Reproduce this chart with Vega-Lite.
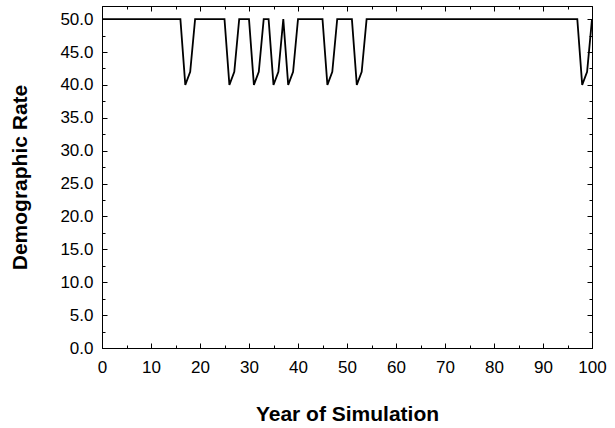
{
  "$schema": "https://vega.github.io/schema/vega-lite/v6.json",
  "width": 490,
  "height": 342,
  "autosize": {"type": "none"},
  "padding": {"left": 102, "top": 6, "right": 23, "bottom": 80},
  "background": "white",
  "config": {
    "view": {"stroke": null},
    "axis": {
      "domainColor": "black",
      "domainWidth": 1,
      "tickColor": "black",
      "tickWidth": 1,
      "labelColor": "black",
      "titleColor": "black",
      "labelFont": "Liberation Sans",
      "titleFont": "Liberation Sans",
      "labelFontSize": 17,
      "titleFontSize": 21,
      "titleFontWeight": "bold",
      "labelFlush": false,
      "labelOverlap": false,
      "grid": false
    }
  },
  "data": {
    "values": [
      {"year": 0, "rate": 50}, {"year": 1, "rate": 50}, {"year": 2, "rate": 50}, {"year": 3, "rate": 50},
      {"year": 4, "rate": 50}, {"year": 5, "rate": 50}, {"year": 6, "rate": 50}, {"year": 7, "rate": 50},
      {"year": 8, "rate": 50}, {"year": 9, "rate": 50}, {"year": 10, "rate": 50}, {"year": 11, "rate": 50},
      {"year": 12, "rate": 50}, {"year": 13, "rate": 50}, {"year": 14, "rate": 50}, {"year": 15, "rate": 50},
      {"year": 16, "rate": 50}, {"year": 17, "rate": 40}, {"year": 18, "rate": 42}, {"year": 19, "rate": 50},
      {"year": 20, "rate": 50}, {"year": 21, "rate": 50}, {"year": 22, "rate": 50}, {"year": 23, "rate": 50},
      {"year": 24, "rate": 50}, {"year": 25, "rate": 50}, {"year": 26, "rate": 40}, {"year": 27, "rate": 42},
      {"year": 28, "rate": 50}, {"year": 29, "rate": 50}, {"year": 30, "rate": 50}, {"year": 31, "rate": 40},
      {"year": 32, "rate": 42}, {"year": 33, "rate": 50}, {"year": 34, "rate": 50}, {"year": 35, "rate": 40},
      {"year": 36, "rate": 42}, {"year": 37, "rate": 50}, {"year": 38, "rate": 40}, {"year": 39, "rate": 42},
      {"year": 40, "rate": 50}, {"year": 41, "rate": 50}, {"year": 42, "rate": 50}, {"year": 43, "rate": 50},
      {"year": 44, "rate": 50}, {"year": 45, "rate": 50}, {"year": 46, "rate": 40}, {"year": 47, "rate": 42},
      {"year": 48, "rate": 50}, {"year": 49, "rate": 50}, {"year": 50, "rate": 50}, {"year": 51, "rate": 50},
      {"year": 52, "rate": 40}, {"year": 53, "rate": 42}, {"year": 54, "rate": 50}, {"year": 55, "rate": 50},
      {"year": 56, "rate": 50}, {"year": 57, "rate": 50}, {"year": 58, "rate": 50}, {"year": 59, "rate": 50},
      {"year": 60, "rate": 50}, {"year": 61, "rate": 50}, {"year": 62, "rate": 50}, {"year": 63, "rate": 50},
      {"year": 64, "rate": 50}, {"year": 65, "rate": 50}, {"year": 66, "rate": 50}, {"year": 67, "rate": 50},
      {"year": 68, "rate": 50}, {"year": 69, "rate": 50}, {"year": 70, "rate": 50}, {"year": 71, "rate": 50},
      {"year": 72, "rate": 50}, {"year": 73, "rate": 50}, {"year": 74, "rate": 50}, {"year": 75, "rate": 50},
      {"year": 76, "rate": 50}, {"year": 77, "rate": 50}, {"year": 78, "rate": 50}, {"year": 79, "rate": 50},
      {"year": 80, "rate": 50}, {"year": 81, "rate": 50}, {"year": 82, "rate": 50}, {"year": 83, "rate": 50},
      {"year": 84, "rate": 50}, {"year": 85, "rate": 50}, {"year": 86, "rate": 50}, {"year": 87, "rate": 50},
      {"year": 88, "rate": 50}, {"year": 89, "rate": 50}, {"year": 90, "rate": 50}, {"year": 91, "rate": 50},
      {"year": 92, "rate": 50}, {"year": 93, "rate": 50}, {"year": 94, "rate": 50}, {"year": 95, "rate": 50},
      {"year": 96, "rate": 50}, {"year": 97, "rate": 50}, {"year": 98, "rate": 40}, {"year": 99, "rate": 42},
      {"year": 100, "rate": 50}
    ]
  },
  "resolve": {"axis": {"x": "independent", "y": "independent"}},
  "layer": [
    {
      "mark": {"type": "line", "strokeOpacity": 0},
      "encoding": {
        "x": {"field": "year", "type": "quantitative", "scale": {"domain": [0, 100], "nice": false},
          "axis": {"orient": "bottom", "values": [0,5,10,15,20,25,30,35,40,45,50,55,60,65,70,75,80,85,90,95,100],
            "labels": false, "domain": false, "tickSize": -3, "title": null}},
        "y": {"field": "rate", "type": "quantitative", "scale": {"domain": [0, 52], "nice": false},
          "axis": {"orient": "left", "values": [0,2.5,5,7.5,10,12.5,15,17.5,20,22.5,25,27.5,30,32.5,35,37.5,40,42.5,45,47.5,50],
            "labels": false, "domain": false, "tickSize": -3, "title": null}}
      }
    },
    {
      "mark": {"type": "line", "strokeOpacity": 0},
      "encoding": {
        "x": {"field": "year", "type": "quantitative",
          "axis": {"orient": "top", "values": [0,5,10,15,20,25,30,35,40,45,50,55,60,65,70,75,80,85,90,95,100],
            "labels": false, "domain": true, "tickSize": -3, "title": null}},
        "y": {"field": "rate", "type": "quantitative",
          "axis": {"orient": "right", "values": [0,2.5,5,7.5,10,12.5,15,17.5,20,22.5,25,27.5,30,32.5,35,37.5,40,42.5,45,47.5,50],
            "labels": false, "domain": true, "tickSize": -3, "title": null}}
      }
    },
    {
      "mark": {"type": "line", "strokeOpacity": 0},
      "encoding": {
        "x": {"field": "year", "type": "quantitative",
          "axis": {"orient": "top", "values": [0,10,20,30,40,50,60,70,80,90,100],
            "labels": false, "domain": false, "tickSize": -5, "title": null}},
        "y": {"field": "rate", "type": "quantitative",
          "axis": {"orient": "right", "values": [0,5,10,15,20,25,30,35,40,45,50],
            "labels": false, "domain": false, "tickSize": -5, "title": null}}
      }
    },
    {
      "mark": {"type": "line", "color": "black", "strokeWidth": 1.8},
      "encoding": {
        "x": {"field": "year", "type": "quantitative",
          "axis": {"orient": "bottom", "values": [0,10,20,30,40,50,60,70,80,90,100],
            "tickSize": -5, "labelPadding": 16, "domain": true,
            "title": "Year of Simulation", "titlePadding": 28}},
        "y": {"field": "rate", "type": "quantitative",
          "axis": {"orient": "left", "values": [0,5,10,15,20,25,30,35,40,45,50], "format": ".1f",
            "tickSize": -5, "labelPadding": 14, "domain": true,
            "title": "Demographic Rate", "titlePadding": 29}}
      }
    }
  ]
}
